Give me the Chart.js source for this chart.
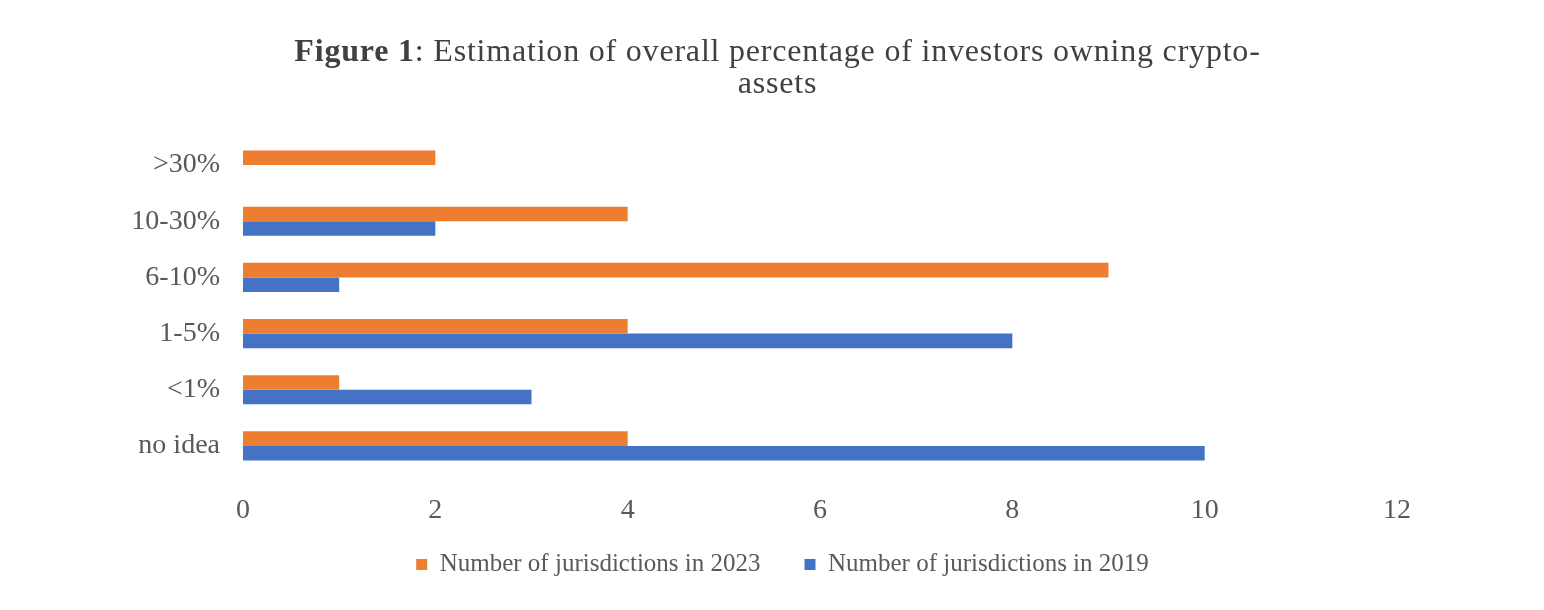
<!DOCTYPE html>
<html>
<head>
<meta charset="utf-8">
<script src="https://cdn.jsdelivr.net/npm/chart.js@4.4.0/dist/chart.umd.min.js"></script>
<style>
  html, body { margin: 0; padding: 0; background: #fff; }
  #wrap { position: relative; width: 1544px; height: 610px; }
  #title {
    position: absolute; left: 0; top: 34px; width: 1555px;
    text-align: center; font-family: "Liberation Serif", serif;
    font-size: 32px; line-height: 32px; letter-spacing: 0.8px; color: #404040;
  }
  canvas { position: absolute; left: 0; top: 0; }
</style>
</head>
<body>
<div id="wrap">
  <canvas id="cryptoChart" width="1544" height="610"></canvas>
  <div id="title"><b>Figure 1</b>: Estimation of overall percentage of investors owning crypto-<br>assets</div>
</div>
<script>
const categories = ['>30%', '10-30%', '6-10%', '1-5%', '<1%', 'no idea'];
const jurisdictions2023 = [2, 4, 9, 4, 1, 4];
const jurisdictions2019 = [null, 2, 1, 8, 3, 10];
const xTicks = [0, 2, 4, 6, 8, 10, 12];

const ctx = document.getElementById('cryptoChart').getContext('2d');

const serif = '"Liberation Serif", "Times New Roman", serif';

// Move the legend a bit: it sits off-centre in the original figure
const legendShift = {
    id: 'legendShift',
    afterLayout(chart) {
        const lg = chart.legend;
        lg.left += 84;
        lg.right += 84;
        lg.top -= 26;
        lg.bottom -= 26;
    }
};

let cryptoChart = new Chart(ctx, {
    type: 'bar',
    data: {
        labels: categories,
        datasets: [
            {
                label: 'Number of jurisdictions in 2023',
                data: jurisdictions2023,
                backgroundColor: '#ED7D31'
            },
            {
                label: 'Number of jurisdictions in 2019',
                data: jurisdictions2019,
                backgroundColor: '#4472C4'
            }
        ]
    },
    plugins: [legendShift],
    options: {
        indexAxis: 'y',
        responsive: false,
        animation: false,
        layout: {
            padding: { top: 137, right: 147, bottom: -3, left: 0 }
        },
        datasets: {
            bar: {
                categoryPercentage: 0.52,
                barPercentage: 1.0
            }
        },
        scales: {
            x: {
                min: 0,
                max: 12,
                grid: { display: false, drawTicks: false },
                border: { display: false },
                afterBuildTicks: function(scale) {
                    scale.ticks = xTicks.map(v => ({ value: v }));
                },
                afterFit: function(scale) {
                    scale.height = 60;
                },
                ticks: {
                    color: '#595959',
                    padding: 20,
                    font: { family: serif, size: 28 }
                }
            },
            y: {
                grid: { display: false, drawTicks: false },
                border: { display: false },
                afterFit: function(scale) {
                    scale.width = 243;
                },
                ticks: {
                    color: '#595959',
                    padding: 23,
                    font: { family: serif, size: 28 }
                }
            }
        },
        plugins: {
            legend: {
                position: 'bottom',
                labels: {
                    color: '#595959',
                    boxWidth: 11,
                    boxHeight: 11,
                    padding: 44,
                    font: { family: serif, size: 25 }
                }
            },
            tooltip: { enabled: false }
        }
    }
});
</script>
</body>
</html>
